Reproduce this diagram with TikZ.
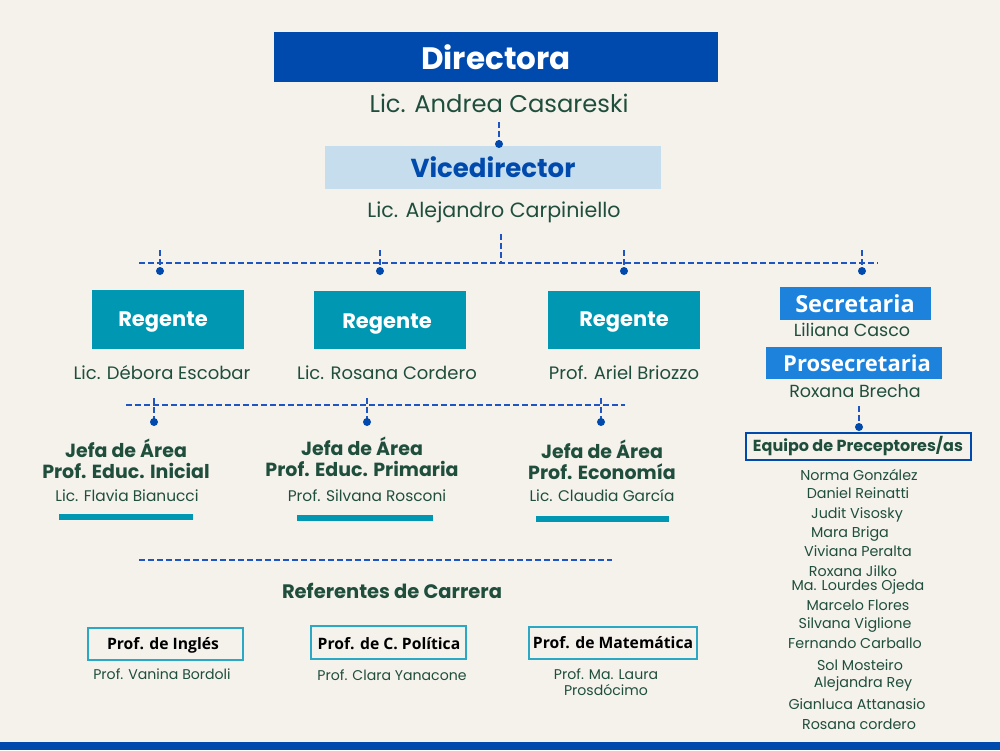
\documentclass[tikz,border=0pt]{standalone}
\usepackage{fontspec}
\setmainfont{Poppins}
\newfontfamily\opensans{Open Sans}
\definecolor{bg}{HTML}{F5F2EC}
\definecolor{navy}{HTML}{004AAD}
\definecolor{lblue}{HTML}{C6DDEE}
\definecolor{teal}{HTML}{0097B2}
\definecolor{sky}{HTML}{1C82DC}
\definecolor{dgreen}{HTML}{1F4E3D}
\definecolor{tealb}{HTML}{2AA8C4}
\definecolor{dash}{HTML}{1F55C0}
\newcommand{\fsz}[1]{\fontsize{#1}{#1}\selectfont}
\tikzset{
  x=1pt, y=-1pt,
  boxn/.style={inner sep=0pt, outer sep=0pt},
  txt/.style={text=dgreen, inner sep=0pt, align=center},
  conn/.style={draw=dash, line width=1.6pt, dash pattern=on 6pt off 3pt},
  dotc/.style={fill=navy},
}
\begin{document}
\begin{tikzpicture}
\useasboundingbox (0,0) rectangle (1000,750);
\fill[bg] (0,0) rectangle (1000,750);
\fill[navy] (0,742) rectangle (1000,750);

% Directora
\fill[navy] (274,32) rectangle (718,82);
\node[boxn, text=white, font=\fsz{31}\bfseries] (dir) at (496,57) {Directora};
\node[txt, font=\fsz{24.2}] (dirn) at (499,103) {Lic. Andrea Casareski};
% Vicedirector
\fill[lblue] (325,146) rectangle (661,189);
\node[boxn, text=navy, font=\fsz{26}\bfseries] (vice) at (493,167) {Vicedirector};
\node[txt, font=\fsz{20.6}] (vicen) at (494,212) {Lic. Alejandro Carpiniello};
\coordinate (c1) at (499,122);
\coordinate (c2) at (499,144);
\draw[conn] (c1) -- (c2);
\fill[dotc] (c2) circle (4);

% main bus
\coordinate (vb) at (501,234);
\coordinate (vbb) at (501,263);
\draw[conn] (vb) -- (vbb);
\coordinate (busL) at (139,263);
\coordinate (busR) at (878,263);
\draw[conn] (busL) -- (busR);
\foreach \x/\n in {160/t1,380/t2,624/t3,862/t4}{
  \coordinate (\n a) at (\x,250);
  \coordinate (\n b) at (\x,271);
  \draw[conn] (\n a) -- (\n b);
  \fill[dotc] (\n b) circle (4);
}

% Regentes
\foreach \xa/\xb/\ya/\n in {92/244/290/r1,314/466/291/r2,548/700/291/r3}{
  \fill[teal] (\xa,\ya) rectangle (\xb,349);
}
\node[boxn, text=white, font=\fsz{21}\bfseries] (r1) at (163,322) {Regente};
\node[boxn, text=white, font=\fsz{21}\bfseries] (r2) at (387,324) {Regente};
\node[boxn, text=white, font=\fsz{21}\bfseries] (r3) at (624,322) {Regente};
\node[txt, font=\fsz{18}] (r1n) at (162,373) {Lic. Débora Escobar};
\node[txt, font=\fsz{18}] (r2n) at (387,373) {Lic. Rosana Cordero};
\node[txt, font=\fsz{18}] (r3n) at (624,373) {Prof. Ariel Briozzo};

% Secretaria
\fill[sky] (780,287) rectangle (931,320);
\node[boxn, text=white, font=\opensans\fsz{23.5}\bfseries] (sec) at (855,304) {Secretaria};
\node[txt, font=\fsz{17.5}] (secn) at (852,330) {Liliana Casco};
\fill[sky] (766,347) rectangle (942,379);
\node[boxn, text=white, font=\opensans\fsz{22}\bfseries] (psec) at (857,363) {Prosecretaria};
\node[txt, font=\fsz{17.5}] (psecn) at (855,391) {Roxana Brecha};
\coordinate (pa) at (859,406);
\coordinate (pb) at (859,427);
\draw[conn] (pa) -- (pb);
\fill[dotc] (pb) circle (4);

% second bus
\coordinate (b2L) at (126,405);
\coordinate (b2R) at (625,405);
\draw[conn] (b2L) -- (b2R);
\foreach \x/\n in {154/s1,367/s2,601/s3}{
  \coordinate (\n a) at (\x,398);
  \coordinate (\n b) at (\x,422);
  \draw[conn] (\n a) -- (\n b);
  \fill[dotc] (\n b) circle (4);
}

% Jefas
\tikzset{jefa/.style={txt, font=\fontsize{19}{21.5}\selectfont\bfseries}}
\node[jefa] (j1) at (126,459) {Jefa de Área\\Prof. Educ. Inicial};
\node[txt, font=\fsz{15.4}] (j1n) at (127,496) {Lic. Flavia Bianucci};
\fill[teal] (59,514) rectangle (193,520);
\node[jefa] (j2) at (362,457) {Jefa de Área\\Prof. Educ. Primaria};
\node[txt, font=\fsz{15.4}] (j2n) at (367,496) {Prof. Silvana Rosconi};
\fill[teal] (297,515) rectangle (433,521);
\node[jefa] (j3) at (602,460) {Jefa de Área\\Prof. Economía};
\node[txt, font=\fsz{15.4}] (j3n) at (602,496) {Lic. Claudia García};
\fill[teal] (536,516) rectangle (669,522);

% Equipo de preceptores
\draw[navy, line width=1.5pt, fill=bg] (746,433) rectangle (971,460);
\node[txt, font=\fsz{16}\bfseries] (eq) at (858,446) {Equipo de Preceptores/as};
\foreach \y/\t/\x in {475/Norma González/859, 493/Daniel Reinatti/858, 515/Judit Visosky/857, 534/Mara Briga/850, 551/Viviana Peralta/858, 571/Roxana Jilko/853, 587/Ma. Lourdes Ojeda/858, 605/Marcelo Flores/858, 625/Silvana Viglione/855, 643/Fernando Carballo/855, 665/Sol Mosteiro/860, 684/Alejandra Rey/863, 704/Gianluca Attanasio/857, 724/Rosana cordero/859}{
  \node[txt, font=\fsz{14.3}] at (\x,\y) {\t};
}

% third bus
\coordinate (b3L) at (139,560);
\coordinate (b3R) at (612,560);
\draw[conn, line width=1.3pt] (b3L) -- (b3R);
\node[txt, font=\fsz{19.5}\bfseries] (ref) at (392,591) {Referentes de Carrera};

% Referentes boxes
\draw[tealb, line width=1.5pt, fill=bg] (88,628) rectangle (243,660);
\node[boxn, text=black, font=\opensans\fsz{15.7}\bfseries] (pi) at (163,645) {Prof. de Inglés};
\node[txt, font=\fsz{14.1}] (pin) at (162,674) {Prof. Vanina Bordoli};
\draw[tealb, line width=1.5pt, fill=bg] (311,626) rectangle (466,659);
\node[boxn, text=black, font=\opensans\fsz{15.7}\bfseries] (pc) at (389,644) {Prof. de C. Política};
\node[txt, font=\fsz{14.1}] (pcn) at (392,675) {Prof. Clara Yanacone};
\draw[tealb, line width=1.5pt, fill=bg] (529,627) rectangle (697,659);
\node[boxn, text=black, font=\opensans\fsz{15.7}\bfseries] (pm) at (613,643) {Prof. de Matemática};
\node[txt, font=\fontsize{14.1}{15.5}\selectfont] (pmn) at (606,682) {Prof. Ma. Laura\\Prosdócimo};
\end{tikzpicture}
\end{document}
